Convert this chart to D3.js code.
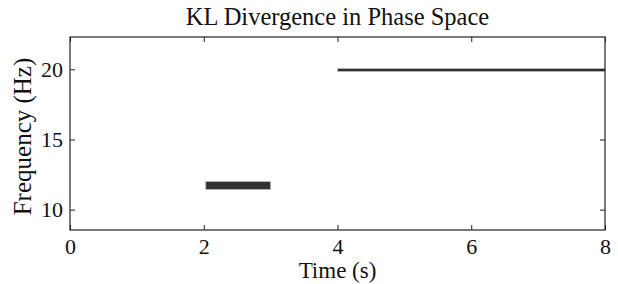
<!DOCTYPE html>
<html>
<head>
<meta charset="utf-8">
<script src="https://cdn.jsdelivr.net/npm/d3@7"></script>
<style>
  body { margin: 0; background: #fff; }
  svg text { font-family: "Liberation Serif", "Times New Roman", serif; fill: #111; }
</style>
</head>
<body>
<svg id="chart" width="618" height="284"></svg>
<script>
// data
const xTicks = [0, 2, 4, 6, 8];
const yTicks = [10, 15, 20];
const segStart = [2.03, 4.0];     // s
const segEnd = [3.0, 8.0];        // s
const segLow = [11.43, 19.84];    // Hz
const segHigh = [12.0, 20.05];    // Hz

const margin = {top: 37, right: 13, bottom: 54, left: 70};
const width = 618, height = 284;

const svg = d3.select("#chart");
const g = svg.append("g").attr("transform", `translate(${margin.left}, ${margin.top})`);
const iw = width - margin.left - margin.right;
const ih = height - margin.top - margin.bottom;

const x = d3.scaleLinear().domain([0, 8]).range([0, iw]);
const y = d3.scaleLinear().domain([8.55, 22.3]).range([ih, 0]);

// bands
const segs = segStart.map((s, i) => ({s, e: segEnd[i], lo: segLow[i], hi: segHigh[i]}));
g.selectAll("rect.seg")
  .data(segs)
  .join("rect")
  .attr("class", "seg")
  .attr("x", d => x(d.s))
  .attr("width", d => x(d.e) - x(d.s))
  .attr("y", d => y(d.hi))
  .attr("height", d => y(d.lo) - y(d.hi))
  .attr("fill", "#333")
  .attr("stroke", "#bbb")
  .attr("stroke-width", 0.8);

// axes, ticks inside like matlab
const tl = 5;
const styleAxis = sel => {
  sel.select(".domain").remove();
  sel.selectAll(".tick line").attr("stroke", "#222");
  sel.selectAll(".tick text").style("font-size", "22px").attr("fill", "#111");
};
g.append("g").attr("transform", `translate(0, ${ih})`)
  .call(d3.axisBottom(x).tickValues(xTicks).tickSize(-tl).tickPadding(8).tickFormat(d3.format("d")))
  .call(styleAxis);
g.append("g")
  .call(d3.axisTop(x).tickValues(xTicks).tickSize(-tl).tickFormat(""))
  .call(styleAxis);
g.append("g")
  .call(d3.axisLeft(y).tickValues(yTicks).tickSize(-tl).tickPadding(7).tickFormat(d3.format("d")))
  .call(styleAxis);
g.append("g").attr("transform", `translate(${iw}, 0)`)
  .call(d3.axisRight(y).tickValues(yTicks).tickSize(-tl).tickFormat(""))
  .call(styleAxis);

g.append("rect")
  .attr("width", iw).attr("height", ih)
  .attr("fill", "none").attr("stroke", "#222").attr("stroke-width", 1.2);

svg.append("text")
  .attr("x", margin.left + iw / 2).attr("y", 25)
  .attr("text-anchor", "middle").style("font-size", "24.5px")
  .text("KL Divergence in Phase Space");

svg.append("text")
  .attr("x", margin.left + iw / 2).attr("y", 278)
  .attr("text-anchor", "middle").style("font-size", "23px")
  .text("Time (s)");

svg.append("text")
  .attr("transform", `translate(31, ${margin.top + ih / 2 + 3}) rotate(-90)`)
  .attr("text-anchor", "middle").style("font-size", "25px")
  .text("Frequency (Hz)");
</script>
</body>
</html>
